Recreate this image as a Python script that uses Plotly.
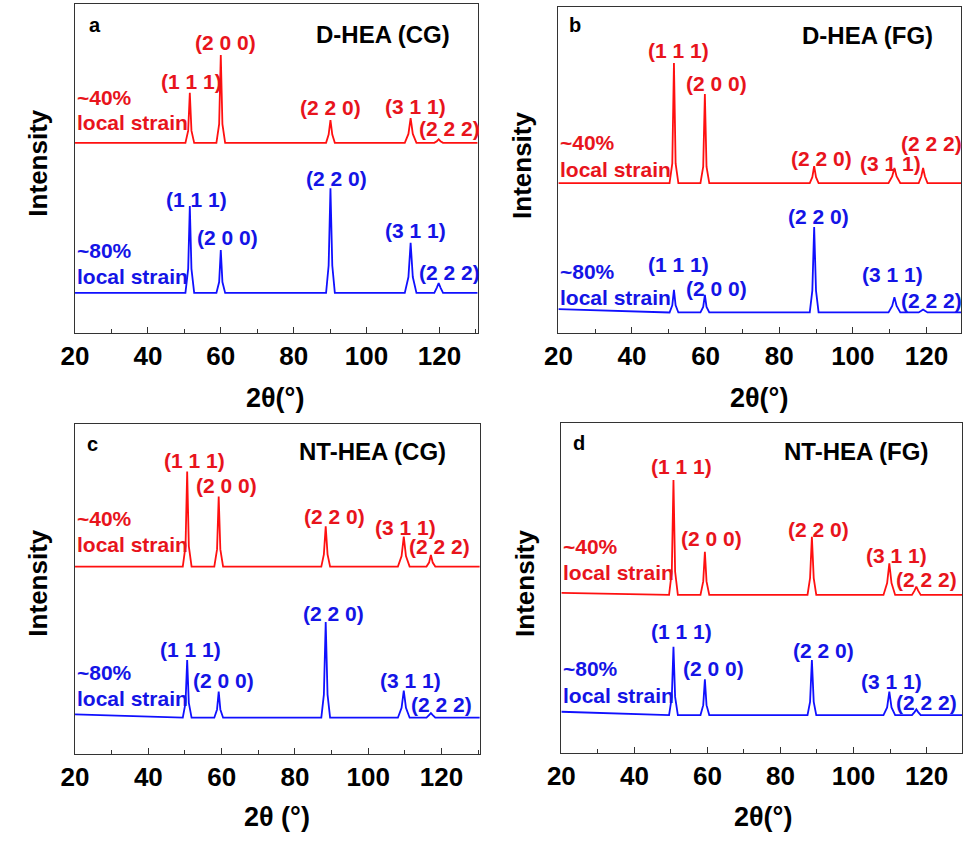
import plotly.graph_objects as go

# ---------------- data ----------------
hkl = ["(1 1 1)", "(2 0 0)", "(2 2 0)", "(3 1 1)", "(2 2 2)"]
panel_titles = ["D-HEA (CG)", "D-HEA (FG)", "NT-HEA (CG)", "NT-HEA (FG)"]
panel_letters = ["a", "b", "c", "d"]
tick_vals = [20, 40, 60, 80, 100, 120]

a_x = [20, 50.3, 51.05, 51.5, 51.95, 52.7, 58.8, 59.55, 60.0, 60.45, 61.2, 88.9, 89.6, 90.1, 90.6, 91.3,
       110.5, 111.5, 112.1, 112.7, 113.7, 118.6, 119.3, 119.8, 120.3, 121.0, 130.5]
a_red = [57.8, 57.8, 61.5, 73.0, 61.5, 57.8, 57.8, 63.5, 84.5, 63.5, 57.8, 57.8, 60.3, 64.7, 60.3, 57.8,
         57.8, 60.5, 65.3, 60.5, 57.8, 57.8, 58.3, 58.9, 58.3, 57.8, 57.8]
a_blue = [12.2, 12.2, 19.5, 38.6, 19.5, 12.2, 12.2, 15.5, 25.2, 15.5, 12.2, 12.2, 20.5, 44.0, 20.5, 12.2,
          12.2, 17.0, 27.4, 17.0, 12.2, 12.2, 13.8, 15.2, 13.8, 12.2, 12.2]

b_x = [20, 50.2, 50.95, 51.4, 51.85, 52.6, 58.6, 59.35, 59.8, 60.25, 61.0, 88.3, 89.0, 89.5, 90.0, 90.7,
       109.7, 110.7, 111.3, 111.9, 112.9, 117.9, 118.6, 119.1, 119.6, 120.3, 130]
b_red = [46, 46, 52, 82.8, 52, 46, 46, 51, 73.3, 51, 46, 46, 47.8, 51.2, 47.8, 46,
         46, 48, 50.6, 48, 46, 46, 48, 50.6, 48, 46, 46]
b_blue = [7.3, 6.3, 8.5, 13.2, 8.5, 6.3, 6.3, 8.0, 11.7, 8.0, 6.3, 6.3, 13.0, 32.5, 13.0, 6.3,
          6.3, 8.3, 11.0, 8.3, 6.3, 6.3, 6.8, 7.2, 6.8, 6.3, 6.3]

c_x = [20, 49.4, 50.15, 50.6, 51.05, 51.8, 58.0, 58.75, 59.2, 59.65, 60.4, 87.2, 87.9, 88.4, 88.9, 89.6,
       108.1, 109.1, 109.7, 110.3, 111.3, 115.9, 116.6, 117.1, 117.6, 118.3, 130.5]
c_red = [56.8, 56.8, 63, 85.6, 63, 56.8, 56.8, 62, 78, 62, 56.8, 56.8, 60.5, 69, 60.5, 56.8,
         56.8, 60, 65.9, 60, 56.8, 56.8, 58, 60.3, 58, 56.8, 56.8]
c_blue = [12, 11, 15.5, 28.5, 15.5, 11, 11, 13.5, 18.9, 13.5, 11, 11, 18, 40, 18, 11,
          11, 14, 19.2, 14, 11, 11, 11.8, 12.4, 11.8, 11, 11]

d_x = [20, 49.5, 50.25, 50.7, 51.15, 51.9, 58.1, 58.85, 59.3, 59.75, 60.5, 87.4, 88.1, 88.6, 89.1, 89.8,
       108.2, 109.2, 109.8, 110.4, 111.4, 116.0, 116.7, 117.2, 117.7, 118.4, 130]
d_red = [48.5, 47.9, 55, 82.7, 55, 47.9, 47.9, 52, 61, 52, 47.9, 47.9, 53, 65.5, 53, 47.9,
         47.9, 51.5, 57.5, 51.5, 47.9, 47.9, 49.2, 50.4, 49.2, 47.9, 47.9]
d_blue = [12.5, 11.5, 17, 32.2, 17, 11.5, 11.5, 14.5, 22.3, 14.5, 11.5, 11.5, 15.5, 28.2, 15.5, 11.5,
          11.5, 13.8, 18.6, 13.8, 11.5, 11.5, 12.4, 13.2, 12.4, 11.5, 11.5]

# ---------------- layout config (positions / styles) ----------------
W, H = 963, 841
RED = "#ff1010"
BLUE = "#1010ff"
TXT_RED = "#e8141c"
TXT_BLUE = "#1414e6"
FONT = "Liberation Sans, Arial, sans-serif"

# pixel boxes: (left, right, top, bottom)
boxes = [(62, 471, 4, 333), (553, 962, 7, 333), (62, 473, 424, 754), (556, 963, 423, 753)]
xranges = [[20, 130.5], [20, 129.4], [20, 130.4], [20, 129.7]]

series = [(a_x, a_red, a_blue), (b_x, b_red, b_blue), (c_x, c_red, c_blue), (d_x, d_red, d_blue)]

# annotation placements in data coords
letter_pos = [(25.5, 93.6), (24.6, 94.5), (24.8, 93.9), (24.7, 93.8)]
title_pos = [(104.5, 90.6), (104, 91.4), (101.2, 91.6), (100.6, 91.3)]
strain_red_pos = [(71.7, 64.1), (58.3, 50.0), (71.4, 63.6), (62.7, 54.6)]
strain_blue_pos = [(25.2, 17.3), (18.8, 10.8), (24.8, 16.9), (25.7, 17.3)]
hkl_red_pos = [
    [(51.9, 76.3), (61.4, 88.4), (90.2, 68.4), (113.4, 68.7), (122.9, 62.3)],
    [(52.7, 86.8), (62.9, 76.6), (91.5, 53.6), (110.2, 52.0), (121.3, 58.2)],
    [(52.5, 88.9), (61.3, 81.5), (90.8, 71.9), (110.2, 68.7), (119.5, 63.0)],
    [(53.0, 86.8), (61.1, 65.0), (90.4, 67.8), (111.8, 60.0), (119.9, 52.6)],
]
hkl_blue_pos = [
    [(53.2, 40.7), (61.8, 28.9), (91.8, 47.1), (113.4, 31.3), (122.9, 18.5)],
    [(52.7, 20.9), (62.9, 13.7), (90.6, 35.7), (110.9, 17.8), (121.3, 10.1)],
    [(51.6, 31.7), (60.6, 22.4), (90.5, 42.6), (111.5, 22.2), (120.0, 15.0)],
    [(53.0, 36.8), (61.7, 25.7), (91.9, 31.2), (110.5, 21.8), (119.9, 15.2)],
]
xtitle_px = [(265, 398, "2θ(°)"), (757, 398, "2θ(°)"), (267, 817, "2θ (°)"), (761, 817, "2θ(°)")]
ytitle_px = [(24, 163), (516, 165), (24, 583), (519, 583)]

fig = go.Figure()
annotations = []

for i, (xs, red, blue) in enumerate(series):
    n = "" if i == 0 else str(i + 1)
    xa, ya = "x" + n, "y" + n
    fig.add_trace(go.Scatter(x=xs, y=red, mode="lines", line=dict(color=RED, width=1.8),
                             xaxis=xa, yaxis=ya, showlegend=False, hoverinfo="skip"))
    fig.add_trace(go.Scatter(x=xs, y=blue, mode="lines", line=dict(color=BLUE, width=1.8),
                             xaxis=xa, yaxis=ya, showlegend=False, hoverinfo="skip"))
    l, r, t, b = boxes[i]
    xd = [l / W, min(r / W, 1.0)]
    yd = [1 - b / H, 1 - t / H]
    fig.update_layout(**{
        "xaxis" + n: dict(domain=xd, range=xranges[i], tickvals=tick_vals,
                          ticks="inside", ticklen=6, tickwidth=1.3, tickcolor="#333",
                          minor=dict(ticks="inside", ticklen=3.5, dtick=10, tick0=0, tickcolor="#333"),
                          showline=True, mirror=True, linecolor="#333", linewidth=1.4,
                          showgrid=False, zeroline=False, anchor=ya,
                          tickfont=dict(family=FONT, size=26, color="black", weight="bold")),
        "yaxis" + n: dict(domain=yd, range=[0, 100], showticklabels=False, ticks="",
                          showline=True, mirror=True, linecolor="#333", linewidth=1.4,
                          showgrid=False, zeroline=False, anchor=xa),
    })

    def ann(text, x, y, color, size, xanchor="center", bold=True):
        annotations.append(dict(text=text, x=x, y=y, xref=xa, yref=ya, showarrow=False,
                                xanchor=xanchor, yanchor="middle",
                                font=dict(family=FONT, size=size, color=color,
                                          weight="bold" if bold else "normal")))

    ann(panel_letters[i], *letter_pos[i], "black", 20)
    ann(panel_titles[i], *title_pos[i], "black", 24)
    ann("~40%", xranges[i][0], strain_red_pos[i][0], TXT_RED, 21, xanchor="left")
    ann("local strain", xranges[i][0], strain_red_pos[i][1], TXT_RED, 21, xanchor="left")
    ann("~80%", xranges[i][0], strain_blue_pos[i][0], TXT_BLUE, 21, xanchor="left")
    ann("local strain", xranges[i][0], strain_blue_pos[i][1], TXT_BLUE, 21, xanchor="left")
    for k, lab in enumerate(hkl):
        ann(lab, *hkl_red_pos[i][k], TXT_RED, 21)
        ann(lab, *hkl_blue_pos[i][k], TXT_BLUE, 21)

    px, py, txt = xtitle_px[i]
    annotations.append(dict(text=txt, x=px / W, y=1 - py / H, xref="paper", yref="paper",
                            showarrow=False, xanchor="center", yanchor="middle",
                            font=dict(family=FONT, size=27, color="black", weight="bold")))
    qx, qy = ytitle_px[i]
    annotations.append(dict(text="Intensity", x=qx / W, y=1 - qy / H, xref="paper", yref="paper",
                            showarrow=False, xanchor="center", yanchor="middle", textangle=-90,
                            font=dict(family=FONT, size=26, color="black", weight="bold")))

fig.update_layout(width=W, height=H, margin=dict(l=0, r=0, t=0, b=0),
                  paper_bgcolor="white", plot_bgcolor="white",
                  annotations=annotations)

fig.write_html("out.html", config={"displayModeBar": False},
               post_script="document.body.style.margin='0';document.body.style.overflow='hidden';")
